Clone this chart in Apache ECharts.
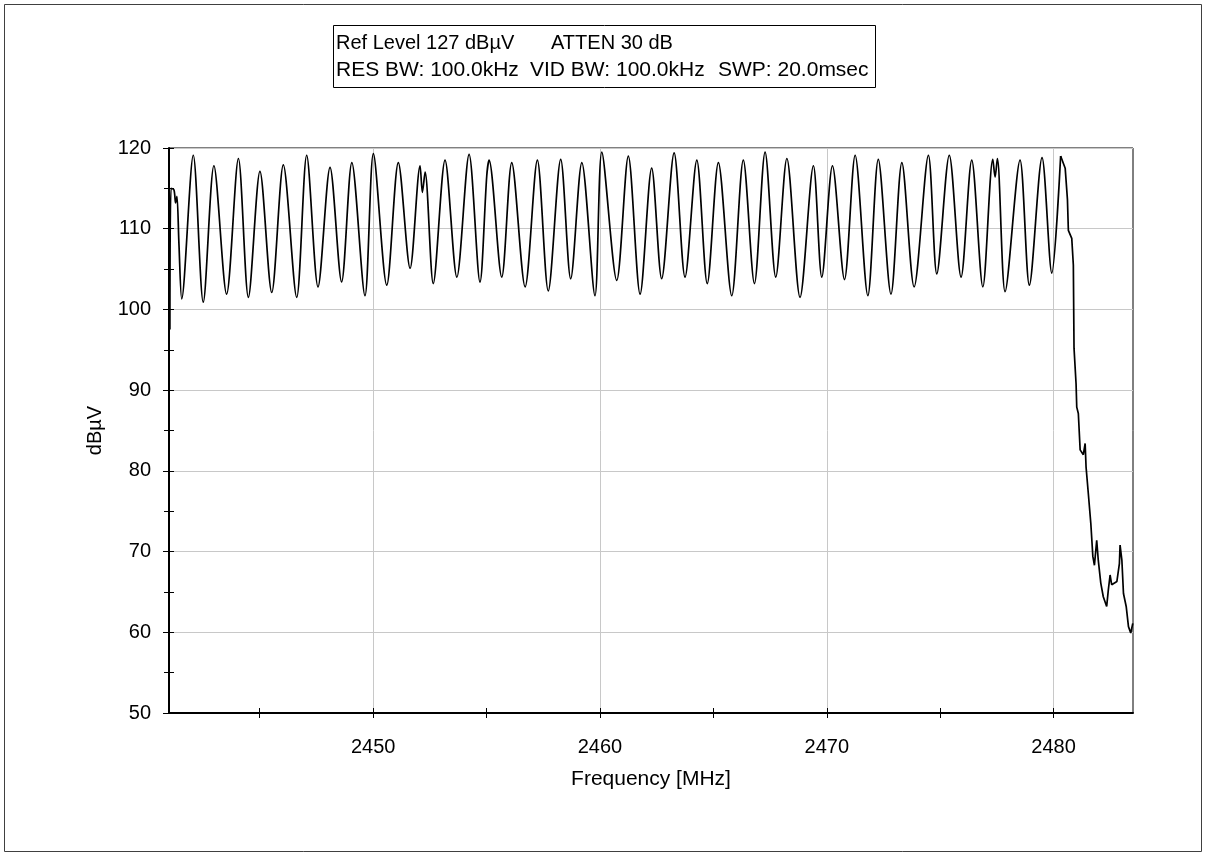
<!DOCTYPE html>
<html>
<head>
<meta charset="utf-8">
<script src="https://cdn.jsdelivr.net/npm/echarts@6/dist/echarts.min.js"></script>
<style>
html,body{margin:0;padding:0;background:#fff;}
#chart{width:1206px;height:856px;}
</style>
</head>
<body>
<div id="chart"></div>
<script>
// Frequency (MHz) of each trace vertex
const frequencyMHz = [
  2441.04, 2441.09, 2441.22, 2441.29, 2441.35, 2441.44, 2441.56,
  2442.07, 2442.51, 2442.98, 2443.54, 2444.06, 2444.50, 2445.01, 2445.53,
  2446.04, 2446.63, 2447.07, 2447.57, 2448.10, 2448.61, 2449.06, 2449.64,
  2450.01, 2450.60, 2451.11, 2451.63, 2452.07, 2452.17, 2452.29, 2452.65,
  2453.17, 2453.69, 2454.23, 2454.71, 2455.01, 2455.11, 2455.67, 2456.11,
  2456.70, 2457.24, 2457.72, 2458.27, 2458.71, 2459.20, 2459.78, 2460.08,
  2460.74, 2461.25, 2461.77, 2462.28, 2462.72, 2463.27, 2463.75, 2464.27,
  2464.73, 2465.22, 2465.81, 2466.32, 2466.81, 2467.28, 2467.75, 2468.24,
  2468.82, 2469.41, 2469.78, 2470.25, 2470.78, 2471.25, 2471.81, 2472.27,
  2472.83, 2473.31, 2473.85, 2474.48, 2474.85, 2475.40, 2475.92, 2476.39,
  2476.88, 2477.32, 2477.42, 2477.52, 2477.86, 2478.52, 2478.93, 2479.49,
  2479.92, 2480.31,
  // roll-off above the band edge
  2480.51, 2480.61, 2480.65, 2480.80, 2480.87, 2480.90, 2480.99, 2481.02,
  2481.09, 2481.17, 2481.31, 2481.39, 2481.43, 2481.53, 2481.64, 2481.73,
  2481.80, 2481.90, 2481.97, 2482.08, 2482.19, 2482.34, 2482.41, 2482.49,
  2482.56, 2482.79, 2482.90, 2482.93, 2483.01, 2483.08, 2483.20, 2483.30,
  2483.40, 2483.49
];
// Level (dBµV) at each vertex
const levelDbuV = [
  97.5, 115.0, 114.8, 113.2, 114.0, 108.0, 101.3,
  119.1, 100.9, 117.8, 101.9, 118.7, 101.5, 117.1, 102.1,
  117.9, 101.5, 119.1, 102.8, 117.6, 103.4, 118.2, 101.7,
  119.3, 103.0, 118.2, 105.1, 117.8, 114.5, 117.0, 103.2,
  118.5, 104.0, 119.2, 103.4, 116.6, 118.5, 104.0, 118.2,
  102.8, 118.5, 102.3, 118.6, 103.8, 118.2, 101.7, 119.5,
  103.6, 119.0, 101.9, 117.5, 103.8, 119.4, 104.0, 118.5,
  103.2, 118.2, 101.7, 118.5, 103.2, 119.5, 104.0, 118.7,
  101.5, 117.8, 104.0, 117.8, 103.7, 119.1, 101.7, 118.6,
  101.9, 118.2, 102.8, 119.1, 104.4, 119.1, 104.0, 118.5,
  102.8, 118.6, 116.4, 118.7, 102.2, 118.5, 103.0, 118.8,
  104.5, 119.0,
  117.5, 113.6, 109.8, 108.8, 105.5, 95.2, 90.8, 87.9,
  87.1, 82.6, 82.0, 83.4, 80.5, 77.2, 73.5, 69.4,
  68.3, 71.4, 68.9, 66.1, 64.4, 63.2, 65.2, 67.1,
  65.9, 66.3, 68.5, 70.8, 68.9, 64.8, 63.2, 60.7,
  59.9, 61.1
];
const rollOffStartFreq = 2480.31;

const xMin = 2441, xMax = 2483.5;
const yMin = 50, yMax = 120;
const xLabelValues = [2450, 2460, 2470, 2480];
const xTickValues = [2445, 2450, 2455, 2460, 2465, 2470, 2475, 2480];

const headerLine1 = ['Ref Level 127 dBµV', 'ATTEN 30 dB'];
const headerLine2 = ['RES BW: 100.0kHz', 'VID BW: 100.0kHz', 'SWP: 20.0msec'];

const points = frequencyMHz.map((f, i) => [f, levelDbuV[i]]);
const splitIdx = frequencyMHz.indexOf(rollOffStartFreq);
const bandPoints = points.slice(0, splitIdx + 1);
const edgePoints = points.slice(splitIdx);

const FONT = '"Liberation Sans", Arial, sans-serif';
const chart = echarts.init(document.getElementById('chart'), null, {renderer: 'canvas'});

const commonX = {type: 'value', min: xMin, max: xMax, position: 'bottom'};
const commonY = {type: 'value', min: yMin, max: yMax, position: 'left'};

function headerText(x, y, text, sx) {
  return {type: 'text', x: x, y: y, scaleX: sx || 1, originX: 0,
          style: {text: text, font: '20px ' + FONT, fill: '#000', verticalAlign: 'middle'}};
}

chart.setOption({
  backgroundColor: '#ffffff',
  animation: false,
  grid: {left: 169, right: 73, top: 148, bottom: 143, show: true, borderColor: '#000', borderWidth: 1, backgroundColor: 'transparent'},
  xAxis: [
    Object.assign({}, commonX, {
      name: 'Frequency [MHz]', nameLocation: 'middle', nameGap: 56,
      nameTextStyle: {fontFamily: FONT, fontSize: 21, color: '#000'},
      axisLine: {show: true, lineStyle: {color: '#000', width: 2}},
      axisTick: {show: true, inside: false, length: 5, customValues: xTickValues, lineStyle: {color: '#000', width: 1}},
      axisLabel: {show: true, customValues: xLabelValues, margin: 24, fontFamily: FONT, fontSize: 20, color: '#000',
                  formatter: v => String(v)},
      splitLine: {show: false}
    }),
    Object.assign({}, commonX, {
      axisLine: {show: false},
      axisTick: {show: true, inside: true, length: 5, customValues: xTickValues, lineStyle: {color: '#000', width: 1}},
      axisLabel: {show: false},
      splitLine: {show: false}
    }),
    Object.assign({}, commonX, {
      axisLine: {show: false},
      axisTick: {show: false, customValues: xLabelValues},
      axisLabel: {show: false},
      splitLine: {show: true, lineStyle: {color: '#c8c8c8', width: 1}}
    })
  ],
  yAxis: [
    Object.assign({}, commonY, {
      interval: 10,
      name: 'dBµV', nameLocation: 'middle', nameGap: 64, nameRotate: 90,
      nameTextStyle: {fontFamily: FONT, fontSize: 20, color: '#000'},
      axisLine: {show: true, lineStyle: {color: '#000', width: 2}},
      axisTick: {show: true, inside: false, length: 6, lineStyle: {color: '#000', width: 1}},
      minorTick: {show: true, splitNumber: 2, length: 5, lineStyle: {color: '#000', width: 1}},
      axisLabel: {show: true, margin: 18, fontFamily: FONT, fontSize: 20, color: '#000'},
      splitLine: {show: true, lineStyle: {color: '#c8c8c8', width: 1}}
    }),
    Object.assign({}, commonY, {
      interval: 5,
      axisLine: {show: false},
      axisTick: {show: true, inside: true, length: 5, lineStyle: {color: '#000', width: 1}},
      axisLabel: {show: false},
      splitLine: {show: false}
    })
  ],
  series: [
    {type: 'line', xAxisIndex: 0, yAxisIndex: 0, data: bandPoints, smooth: 0.3, showSymbol: false,
     lineStyle: {color: '#000', width: 1.7}, z: 5},
    {type: 'line', xAxisIndex: 0, yAxisIndex: 0, data: edgePoints, smooth: false, showSymbol: false,
     lineStyle: {color: '#000', width: 1.7}, z: 5}
  ],
  graphic: [
    {type: 'rect', shape: {x: 4.5, y: 4.5, width: 1197, height: 847}, style: {fill: 'none', stroke: '#404040', lineWidth: 1}, silent: true},
    {type: 'rect', shape: {x: 333.5, y: 25.5, width: 542, height: 62}, style: {fill: '#fff', stroke: '#000', lineWidth: 1}, silent: true},
    headerText(336, 43, headerLine1[0]),
    headerText(551, 43, headerLine1[1]),
    headerText(336, 70, headerLine2[0], 1.05),
    headerText(530, 70, headerLine2[1], 1.05),
    headerText(718, 70, headerLine2[2], 1.05)
  ]
});
</script>
</body>
</html>
